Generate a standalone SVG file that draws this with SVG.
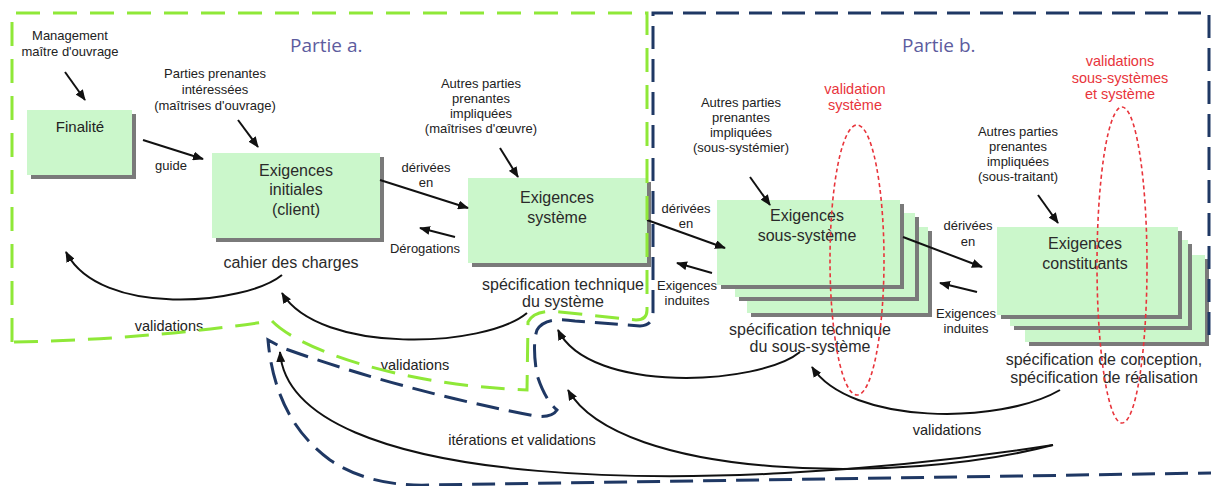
<svg xmlns="http://www.w3.org/2000/svg" width="1211" height="486" viewBox="0 0 1211 486">
<style>
text{font-family:"Liberation Sans",Arial,sans-serif;fill:#222;text-anchor:middle}
.s{font-size:13px}
.m{font-size:14.5px}
.b{font-size:16px;fill:#2a2a2a}
.r{font-size:14.5px;fill:#e8343b}
.p{font-family:"Open Sans","Liberation Sans",sans-serif;font-size:19px;fill:#5d5c9e;text-anchor:start}
.box{fill:#cbf7cb}
.sh{fill:#7a7a7a}
.ar{stroke:#111;stroke-width:2;fill:none}
.ca{stroke:#111;stroke-width:2;fill:none}
.ell{fill:none;stroke:#e8343b;stroke-width:1.6;stroke-dasharray:4 3}
.gb{fill:none;stroke:#8fe838;stroke-width:3;stroke-dasharray:24 13}
.bb{fill:none;stroke:#1f3864;stroke-width:3;stroke-dasharray:23 10}
</style>
<defs>
<marker id="ah" markerUnits="userSpaceOnUse" markerWidth="11" markerHeight="9" refX="10" refY="4.5" orient="auto">
<path d="M0,0 L11,4.5 L0,9 z" fill="#111"/>
</marker>
</defs>

<text class="p" x="290" y="52">Partie a.</text>
<text class="p" x="902" y="52">Partie b.</text>

<g id="finalite">
<rect class="sh" x="31" y="114" width="105" height="65"/>
<rect class="box" x="27" y="110" width="105" height="65"/>
<text x="80" y="132" style="font-size:15px">Finalité</text>
</g>

<g id="exigences-initiales">
<rect class="sh" x="216" y="157" width="168" height="85"/>
<rect class="box" x="212" y="153" width="168" height="85"/>
<text class="b" x="296" y="176">Exigences</text>
<text class="b" x="296" y="195">initiales</text>
<text class="b" x="296" y="215">(client)</text>
</g>

<g id="exigences-systeme">
<rect class="sh" x="472" y="182" width="179" height="85"/>
<rect class="box" x="468" y="178" width="179" height="85"/>
<text class="b" x="557" y="203">Exigences</text>
<text class="b" x="557" y="223">système</text>
</g>

<g id="exigences-sous-systeme">
<rect class="sh" x="751" y="231" width="181" height="86"/>
<rect class="box" x="747" y="227" width="181" height="86"/>
<rect class="sh" x="739" y="217" width="180" height="84"/>
<rect class="box" x="735" y="213" width="180" height="84"/>
<rect class="sh" x="721" y="204" width="183" height="85"/>
<rect class="box" x="717" y="200" width="183" height="85"/>
<text class="b" x="807" y="221">Exigences</text>
<text class="b" x="807" y="241">sous-système</text>
</g>

<g id="exigences-constituants">
<rect class="sh" x="1029" y="259" width="180" height="87"/>
<rect class="box" x="1025" y="255" width="180" height="87"/>
<rect class="sh" x="1014" y="244" width="178" height="86"/>
<rect class="box" x="1010" y="240" width="178" height="86"/>
<rect class="sh" x="1001" y="231" width="181" height="88"/>
<rect class="box" x="997" y="227" width="181" height="88"/>
<text class="b" x="1085" y="249">Exigences</text>
<text class="b" x="1085" y="269">constituants</text>
</g>

<g id="labels">
<text class="s" x="70" y="40">Management</text>
<text class="s" x="70" y="56">maître d'ouvrage</text>
<text class="s" x="215" y="78">Parties prenantes</text>
<text class="s" x="215" y="94">intéressées</text>
<text class="s" x="215" y="110">(maîtrises d'ouvrage)</text>
<text class="s" x="171" y="170">guide</text>
<text class="s" x="426" y="172">dérivées</text>
<text class="s" x="426" y="187">en</text>
<text class="s" x="425" y="253">Dérogations</text>
<text class="b" x="291" y="268">cahier des charges</text>
<text class="s" x="481" y="88">Autres parties</text>
<text class="s" x="481" y="103">prenantes</text>
<text class="s" x="481" y="118">impliquées</text>
<text class="s" x="481" y="133">(maîtrises d'œuvre)</text>
<text class="b" x="563" y="290">spécification technique</text>
<text class="b" x="563" y="307">du système</text>
<text class="s" x="686" y="213">dérivées</text>
<text class="s" x="686" y="228">en</text>
<text class="s" x="687" y="290">Exigences</text>
<text class="s" x="687" y="305">induites</text>
<text class="s" x="741" y="107">Autres parties</text>
<text class="s" x="741" y="122">prenantes</text>
<text class="s" x="741" y="137">impliquées</text>
<text class="s" x="741" y="152">(sous-systémier)</text>
<text class="b" x="810" y="335">spécification technique</text>
<text class="b" x="810" y="352">du sous-système</text>
<text class="s" x="1018" y="136">Autres parties</text>
<text class="s" x="1018" y="151">prenantes</text>
<text class="s" x="1018" y="166">impliquées</text>
<text class="s" x="1018" y="181">(sous-traitant)</text>
<text class="s" x="968" y="230">dérivées</text>
<text class="s" x="968" y="246">en</text>
<text class="s" x="966" y="318">Exigences</text>
<text class="s" x="966" y="333">induites</text>
<text class="b" x="1104" y="365">spécification de conception,</text>
<text class="b" x="1104" y="383">spécification de réalisation</text>
<text class="m" x="169" y="331">validations</text>
<text class="m" x="415" y="370">validations</text>
<text class="m" x="947" y="435">validations</text>
<text class="m" x="522" y="445">itérations et validations</text>
<text class="r" x="855" y="94">validation</text>
<text class="r" x="855" y="110">système</text>
<text class="r" x="1120" y="66">validations</text>
<text class="r" x="1120" y="83">sous-systèmes</text>
<text class="r" x="1120" y="99">et système</text>
</g>

<g id="connectors">
<path class="ar" marker-end="url(#ah)" d="M65,72 L85,100"/>
<path class="ar" marker-end="url(#ah)" d="M238,120 L258,147"/>
<path class="ar" marker-end="url(#ah)" d="M143,140 L203,159"/>
<path class="ar" marker-end="url(#ah)" d="M380,180 L468,208"/>
<path class="ar" marker-end="url(#ah)" d="M455,237 L420,228"/>
<path class="ar" marker-end="url(#ah)" d="M500,148 L518,177"/>
<path class="ar" marker-end="url(#ah)" d="M647,220 L725,248"/>
<path class="ar" marker-end="url(#ah)" d="M712,273 L677,263"/>
<path class="ar" marker-end="url(#ah)" d="M750,177 L770,205"/>
<path class="ar" marker-end="url(#ah)" d="M1038,195 L1058,223"/>
<path class="ar" marker-end="url(#ah)" d="M903,237 L982,267"/>
<path class="ar" marker-end="url(#ah)" d="M977,292 L940,283"/>
<path class="ca" marker-end="url(#ah)" d="M282,275 C245,305 100,318 66,252"/>
<path class="ca" marker-end="url(#ah)" d="M527,313 C485,348 320,355 282,293"/>
<path class="ca" marker-end="url(#ah)" d="M800,352 C760,385 590,395 558,330"/>
<path class="ca" marker-end="url(#ah)" d="M1060,390 C1000,425 850,425 812,367"/>
<path class="ca" marker-end="url(#ah)" d="M1053,445 C900,485 620,480 568,390"/>
<path class="ca" marker-end="url(#ah)" d="M1053,445 C700,500 290,490 280,352"/>
</g>

<g id="validation-ellipses">
<ellipse class="ell" cx="857" cy="260" rx="27" ry="135"/>
<ellipse class="ell" cx="1122" cy="265" rx="25" ry="158"/>
</g>

<g id="partie-a-boundary">
<path class="gb" d="M12,342 V13 H647 V310 Q647,320 636,320 L560,312 Q535,309 528,322 L527,390 C400,385 300,350 272,321 Q140,340 12,342"/>
</g>
<g id="partie-b-boundary">
<path class="bb" d="M1209,335 V13 H653 V312 Q653,326 640,326 L575,321 Q545,316 537,330 Q532,345 537,375 Q545,400 557,410 Q552,418 535,416 Q400,390 283,348 L268,340 Q275,420 330,460 Q370,487 430,485 L1211,473"/>
</g>
</svg>
